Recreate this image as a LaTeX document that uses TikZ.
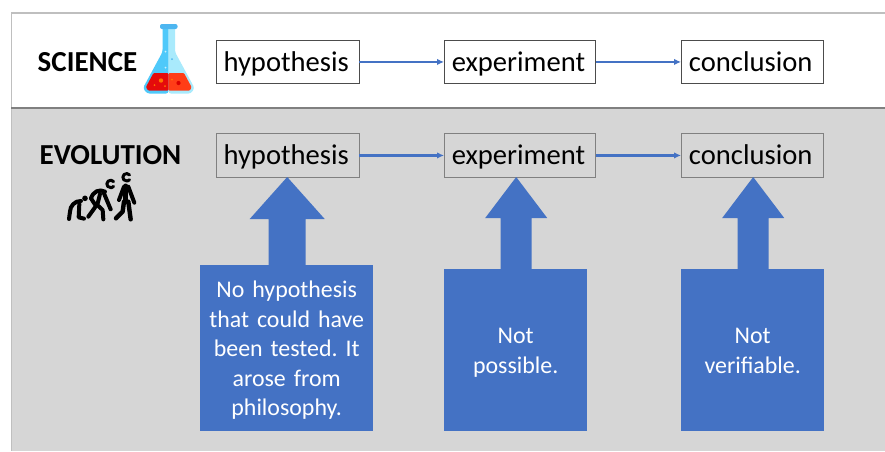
\documentclass[tikz,border=0pt]{standalone}
\usepackage{fontspec}
\setmainfont{Carlito}
\usetikzlibrary{arrows.meta}
\definecolor{panelgray}{HTML}{D6D6D6}
\definecolor{bluefill}{HTML}{4472C4}
\definecolor{flaskL}{HTML}{4FC9FA}
\definecolor{flaskR}{HTML}{A9EAFC}
\definecolor{capblue}{HTML}{4DB6F0}
\definecolor{redL}{HTML}{E50B0B}
\definecolor{redR}{HTML}{FF3D17}
\frenchspacing
\tikzset{
  x=1pt,y=-1pt,
  stagebox/.style={draw=black!70,line width=0.9pt,inner sep=0pt,anchor=north west,font=\fontsize{28.6}{30}\selectfont,text=black,text height=22pt,text depth=3pt,execute at begin node=\hspace*{-3pt}},
  graybox/.style={stagebox,draw=black!50},
  flowline/.style={draw=bluefill,line width=1.9pt,-{Latex[length=7pt,width=6.5pt]}},
  flowthin/.style={draw=bluefill,line width=2.2pt,-{Latex[length=7pt,width=6.5pt]}},
  blockarrow/.style={fill=bluefill},
  bluebox/.style={fill=bluefill,inner sep=0pt,anchor=north west,text=white,align=center,font=\fontsize{23.9}{29.6}\selectfont},
  heading/.style={font=\fontsize{29}{32}\selectfont\bfseries,text=black},
  figline/.style={draw=black,line width=4pt,line cap=round,line join=round},
}
\begin{document}
\begin{tikzpicture}
\useasboundingbox (0,0) rectangle (885,451);
% panels
\fill[white] (0,0) rectangle (885,451);
\fill[panelgray] (11,108) rectangle (885,451);
\draw[draw=black!25,line width=1.4pt] (885,13) -- (11.5,13) -- (11.5,451);
\draw[draw=black!50,line width=1.2pt] (11,108) -- (885,108);
% headings
\node[heading] (sci) at (87.5,62) {SCIENCE};
\node[heading] (evo) at (110.5,155) {EVOLUTION};
% top row
\node[stagebox,minimum width=142.5pt,minimum height=43pt,fill=white] (h1) at (216,40) {hypothesis};
\node[stagebox,minimum width=151pt,minimum height=43pt,fill=white] (e1) at (444,40) {experiment};
\node[stagebox,minimum width=141.5pt,minimum height=43pt,fill=white] (c1) at (681,40) {conclusion};
\draw[flowline] (h1) -- (e1);
\draw[flowline] (e1) -- (c1);
% bottom row
\node[graybox,minimum width=142.5pt,minimum height=44pt] (h2) at (216,133) {hypothesis};
\node[graybox,minimum width=151pt,minimum height=44pt] (e2) at (444,133) {experiment};
\node[graybox,minimum width=141.5pt,minimum height=44pt] (c2) at (681,133) {conclusion};
\draw[flowthin] (h2) -- (e2);
\draw[flowthin] (e2) -- (c2);
% blue boxes
\node[bluebox,minimum width=173pt,minimum height=166pt,text width=170pt] (b1) at (200,265) {\rule{0pt}{21pt}No hypothesis\\that could have\\been tested. It\\arose from\\philosophy.};
\node[bluebox,minimum width=143pt,minimum height=162pt,text width=140pt] (b2) at (444,269) {\rule{0pt}{20pt}Not\\possible.};
\node[bluebox,minimum width=143pt,minimum height=162pt,text width=140pt] (b3) at (681,269) {\rule{0pt}{17pt}Not\\verifiable.};
% block arrows
\fill[blockarrow] (b1.north) ++(-18,0.5) -- ++(0,-46.5) -- ++(-19,0) -- ++(37.5,-42) -- ++(37.5,42) -- ++(-19,0) -- ++(0,46.5) -- cycle;
\fill[blockarrow] (b2.north) ++(-15,0.5) -- ++(0,-51.5) -- ++(-15.5,0) -- ++(31,-41) -- ++(31,41) -- ++(-15.5,0) -- ++(0,51.5) -- cycle;
\fill[blockarrow] (b3.north) ++(-15,0.5) -- ++(0,-51.5) -- ++(-15.5,0) -- ++(31,-41) -- ++(31,41) -- ++(-15.5,0) -- ++(0,51.5) -- cycle;
% flask
\fill[flaskL,rounded corners=2.5pt] (162.5,26) -- (168.5,26) -- (168.5,93.5) -- (147,93.5) -- (143,88) -- (162.5,52) -- cycle;
\fill[flaskR,rounded corners=2.5pt] (168.5,26) -- (175,26) -- (175,52) -- (194.5,88) -- (191,93.5) -- (168.5,93.5) -- cycle;
\fill[redL,rounded corners=1pt] (153.5,73) -- (168.5,73) -- (168.5,90.5) -- (148,90.5) -- (146,87) -- cycle;
\fill[redR,rounded corners=1pt] (168.5,73) -- (184,73) -- (191.5,87) -- (190,90.5) -- (168.5,90.5) -- cycle;
\fill[capblue,rounded corners=2pt] (160,24) rectangle (177.5,29);
\fill[orange!90!red] (161,80.5) circle (2.2pt) (154.5,85) circle (1pt) (165,86) circle (1pt);
\fill[red!85!black] (178.5,83) circle (2.1pt);
\fill[orange!90!red] (172,79.5) circle (1pt);
\fill[white!70!flaskL] (165.5,51.5) circle (1pt) (165.5,67.5) circle (1pt);
\fill[capblue] (172,59) circle (1pt);
% evolution figures
\begin{scope}[shift={(20,130)},x=0.3333pt,y=-0.3333pt]
 \fill (195,205) circle (2.8pt);
 \draw[figline] (183,213) .. controls (165,212) and (150,228) .. (150,245);
 \draw[figline] (178,222) -- (176,262) -- (192,266);
 \draw[figline] (150,245) -- (147,267);
 \draw[figline] (255,185) .. controls (238,176) and (220,184) .. (213,205);
 \draw[figline] (252,190) -- (272,238);
 \draw[figline] (240,192) -- (232,225) -- (248,240) -- (250,268);
 \draw[figline] (213,205) -- (228,228) -- (205,260);
 \draw[figline,line width=5pt] (318,168) -- (318,215);
 \draw[figline] (312,170) -- (297,210);
 \draw[figline] (325,170) -- (343,218);
 \draw[figline,line width=4.4pt] (312,215) -- (308,245) -- (288,265);
 \draw[figline,line width=4.4pt] (325,215) -- (332,268);
 \draw[figline,line width=3pt] (272,162) ++(40:3.8pt) arc (40:320:3.8pt);
 \draw[figline,line width=3pt] (320,142) ++(40:3.8pt) arc (40:320:3.8pt);
\end{scope}
\end{tikzpicture}
\end{document}
